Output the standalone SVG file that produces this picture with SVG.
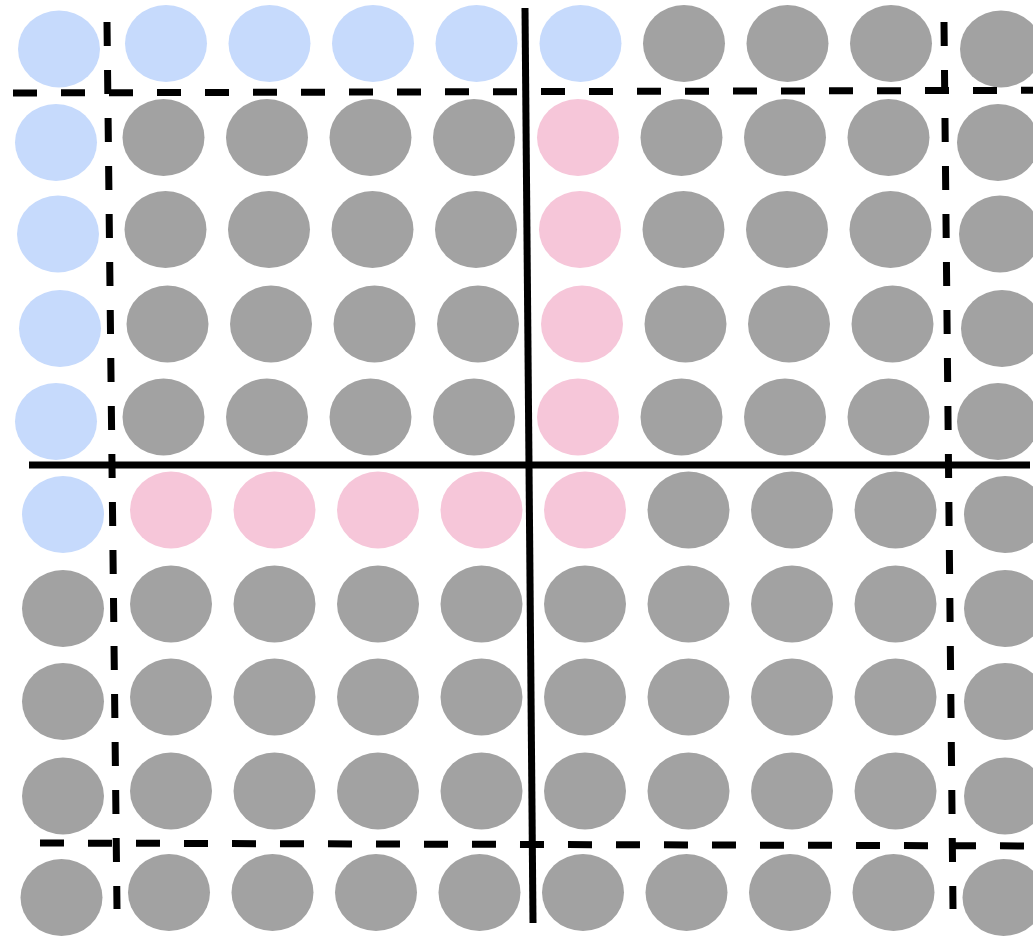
<svg xmlns="http://www.w3.org/2000/svg" width="1033" height="936" viewBox="0 0 1033 936">
<style>
.b{fill:#c6dafc}.p{fill:#f6c6d9}.g{fill:#a2a2a2}
ellipse{stroke:none}
.dash{stroke:#000;stroke-width:7;stroke-dasharray:24 24;fill:none}
.solid{stroke:#000;stroke-width:7;fill:none}
</style>
<rect width="1033" height="936" fill="#fff"/>
<g id="nodes">
<g id="r0c0"><ellipse class="b" cx="59" cy="49" rx="41" ry="38.5"/></g>
<g id="r0c1"><ellipse class="b" cx="166" cy="43.5" rx="41" ry="38.5"/></g>
<g id="r0c2"><ellipse class="b" cx="269.5" cy="43.5" rx="41" ry="38.5"/></g>
<g id="r0c3"><ellipse class="b" cx="373" cy="43.5" rx="41" ry="38.5"/></g>
<g id="r0c4"><ellipse class="b" cx="476.5" cy="43.5" rx="41" ry="38.5"/></g>
<g id="r0c5"><ellipse class="b" cx="580.5" cy="43.5" rx="41" ry="38.5"/></g>
<g id="r0c6"><ellipse class="g" cx="684" cy="43.5" rx="41" ry="38.5"/></g>
<g id="r0c7"><ellipse class="g" cx="787.5" cy="43.5" rx="41" ry="38.5"/></g>
<g id="r0c8"><ellipse class="g" cx="891" cy="43.5" rx="41" ry="38.5"/></g>
<g id="r0c9"><ellipse class="g" cx="1001" cy="49" rx="41" ry="38.5"/></g>

<g id="r1c0"><ellipse class="b" cx="56" cy="142.5" rx="41" ry="38.5"/></g>
<g id="r1c1"><ellipse class="g" cx="163.5" cy="137.5" rx="41" ry="38.5"/></g>
<g id="r1c2"><ellipse class="g" cx="267" cy="137.5" rx="41" ry="38.5"/></g>
<g id="r1c3"><ellipse class="g" cx="370.5" cy="137.5" rx="41" ry="38.5"/></g>
<g id="r1c4"><ellipse class="g" cx="474" cy="137.5" rx="41" ry="38.5"/></g>
<g id="r1c5"><ellipse class="p" cx="578" cy="137.5" rx="41" ry="38.5"/></g>
<g id="r1c6"><ellipse class="g" cx="681.5" cy="137.5" rx="41" ry="38.5"/></g>
<g id="r1c7"><ellipse class="g" cx="785" cy="137.5" rx="41" ry="38.5"/></g>
<g id="r1c8"><ellipse class="g" cx="888.5" cy="137.5" rx="41" ry="38.5"/></g>
<g id="r1c9"><ellipse class="g" cx="998" cy="142.5" rx="41" ry="38.5"/></g>

<g id="r2c0"><ellipse class="b" cx="58" cy="234" rx="41" ry="38.5"/></g>
<g id="r2c1"><ellipse class="g" cx="165.5" cy="229.5" rx="41" ry="38.5"/></g>
<g id="r2c2"><ellipse class="g" cx="269" cy="229.5" rx="41" ry="38.5"/></g>
<g id="r2c3"><ellipse class="g" cx="372.5" cy="229.5" rx="41" ry="38.5"/></g>
<g id="r2c4"><ellipse class="g" cx="476" cy="229.5" rx="41" ry="38.5"/></g>
<g id="r2c5"><ellipse class="p" cx="580" cy="229.5" rx="41" ry="38.5"/></g>
<g id="r2c6"><ellipse class="g" cx="683.5" cy="229.5" rx="41" ry="38.5"/></g>
<g id="r2c7"><ellipse class="g" cx="787" cy="229.5" rx="41" ry="38.5"/></g>
<g id="r2c8"><ellipse class="g" cx="890.5" cy="229.5" rx="41" ry="38.5"/></g>
<g id="r2c9"><ellipse class="g" cx="1000" cy="234" rx="41" ry="38.5"/></g>

<g id="r3c0"><ellipse class="b" cx="60" cy="328.5" rx="41" ry="38.5"/></g>
<g id="r3c1"><ellipse class="g" cx="167.5" cy="324" rx="41" ry="38.5"/></g>
<g id="r3c2"><ellipse class="g" cx="271" cy="324" rx="41" ry="38.5"/></g>
<g id="r3c3"><ellipse class="g" cx="374.5" cy="324" rx="41" ry="38.5"/></g>
<g id="r3c4"><ellipse class="g" cx="478" cy="324" rx="41" ry="38.5"/></g>
<g id="r3c5"><ellipse class="p" cx="582" cy="324" rx="41" ry="38.5"/></g>
<g id="r3c6"><ellipse class="g" cx="685.5" cy="324" rx="41" ry="38.5"/></g>
<g id="r3c7"><ellipse class="g" cx="789" cy="324" rx="41" ry="38.5"/></g>
<g id="r3c8"><ellipse class="g" cx="892.5" cy="324" rx="41" ry="38.5"/></g>
<g id="r3c9"><ellipse class="g" cx="1002" cy="328.5" rx="41" ry="38.5"/></g>

<g id="r4c0"><ellipse class="b" cx="56" cy="421.5" rx="41" ry="38.5"/></g>
<g id="r4c1"><ellipse class="g" cx="163.5" cy="417" rx="41" ry="38.5"/></g>
<g id="r4c2"><ellipse class="g" cx="267" cy="417" rx="41" ry="38.5"/></g>
<g id="r4c3"><ellipse class="g" cx="370.5" cy="417" rx="41" ry="38.5"/></g>
<g id="r4c4"><ellipse class="g" cx="474" cy="417" rx="41" ry="38.5"/></g>
<g id="r4c5"><ellipse class="p" cx="578" cy="417" rx="41" ry="38.5"/></g>
<g id="r4c6"><ellipse class="g" cx="681.5" cy="417" rx="41" ry="38.5"/></g>
<g id="r4c7"><ellipse class="g" cx="785" cy="417" rx="41" ry="38.5"/></g>
<g id="r4c8"><ellipse class="g" cx="888.5" cy="417" rx="41" ry="38.5"/></g>
<g id="r4c9"><ellipse class="g" cx="998" cy="421.5" rx="41" ry="38.5"/></g>

<g id="r5c0"><ellipse class="b" cx="63" cy="514.5" rx="41" ry="38.5"/></g>
<g id="r5c1"><ellipse class="p" cx="171" cy="510" rx="41" ry="38.5"/></g>
<g id="r5c2"><ellipse class="p" cx="274.5" cy="510" rx="41" ry="38.5"/></g>
<g id="r5c3"><ellipse class="p" cx="378" cy="510" rx="41" ry="38.5"/></g>
<g id="r5c4"><ellipse class="p" cx="481.5" cy="510" rx="41" ry="38.5"/></g>
<g id="r5c5"><ellipse class="p" cx="585" cy="510" rx="41" ry="38.5"/></g>
<g id="r5c6"><ellipse class="g" cx="688.5" cy="510" rx="41" ry="38.5"/></g>
<g id="r5c7"><ellipse class="g" cx="792" cy="510" rx="41" ry="38.5"/></g>
<g id="r5c8"><ellipse class="g" cx="895.5" cy="510" rx="41" ry="38.5"/></g>
<g id="r5c9"><ellipse class="g" cx="1005" cy="514.5" rx="41" ry="38.5"/></g>

<g id="r6c0"><ellipse class="g" cx="63" cy="608.5" rx="41" ry="38.5"/></g>
<g id="r6c1"><ellipse class="g" cx="171" cy="604" rx="41" ry="38.5"/></g>
<g id="r6c2"><ellipse class="g" cx="274.5" cy="604" rx="41" ry="38.5"/></g>
<g id="r6c3"><ellipse class="g" cx="378" cy="604" rx="41" ry="38.5"/></g>
<g id="r6c4"><ellipse class="g" cx="481.5" cy="604" rx="41" ry="38.5"/></g>
<g id="r6c5"><ellipse class="g" cx="585" cy="604" rx="41" ry="38.5"/></g>
<g id="r6c6"><ellipse class="g" cx="688.5" cy="604" rx="41" ry="38.5"/></g>
<g id="r6c7"><ellipse class="g" cx="792" cy="604" rx="41" ry="38.5"/></g>
<g id="r6c8"><ellipse class="g" cx="895.5" cy="604" rx="41" ry="38.5"/></g>
<g id="r6c9"><ellipse class="g" cx="1005" cy="608.5" rx="41" ry="38.5"/></g>

<g id="r7c0"><ellipse class="g" cx="63" cy="701.5" rx="41" ry="38.5"/></g>
<g id="r7c1"><ellipse class="g" cx="171" cy="697" rx="41" ry="38.5"/></g>
<g id="r7c2"><ellipse class="g" cx="274.5" cy="697" rx="41" ry="38.5"/></g>
<g id="r7c3"><ellipse class="g" cx="378" cy="697" rx="41" ry="38.5"/></g>
<g id="r7c4"><ellipse class="g" cx="481.5" cy="697" rx="41" ry="38.5"/></g>
<g id="r7c5"><ellipse class="g" cx="585" cy="697" rx="41" ry="38.5"/></g>
<g id="r7c6"><ellipse class="g" cx="688.5" cy="697" rx="41" ry="38.5"/></g>
<g id="r7c7"><ellipse class="g" cx="792" cy="697" rx="41" ry="38.5"/></g>
<g id="r7c8"><ellipse class="g" cx="895.5" cy="697" rx="41" ry="38.5"/></g>
<g id="r7c9"><ellipse class="g" cx="1005" cy="701.5" rx="41" ry="38.5"/></g>

<g id="r8c0"><ellipse class="g" cx="63" cy="796" rx="41" ry="38.5"/></g>
<g id="r8c1"><ellipse class="g" cx="171" cy="791" rx="41" ry="38.5"/></g>
<g id="r8c2"><ellipse class="g" cx="274.5" cy="791" rx="41" ry="38.5"/></g>
<g id="r8c3"><ellipse class="g" cx="378" cy="791" rx="41" ry="38.5"/></g>
<g id="r8c4"><ellipse class="g" cx="481.5" cy="791" rx="41" ry="38.5"/></g>
<g id="r8c5"><ellipse class="g" cx="585" cy="791" rx="41" ry="38.5"/></g>
<g id="r8c6"><ellipse class="g" cx="688.5" cy="791" rx="41" ry="38.5"/></g>
<g id="r8c7"><ellipse class="g" cx="792" cy="791" rx="41" ry="38.5"/></g>
<g id="r8c8"><ellipse class="g" cx="895.5" cy="791" rx="41" ry="38.5"/></g>
<g id="r8c9"><ellipse class="g" cx="1005" cy="796" rx="41" ry="38.5"/></g>

<g id="r9c0"><ellipse class="g" cx="61.5" cy="897.5" rx="41" ry="38.5"/></g>
<g id="r9c1"><ellipse class="g" cx="169" cy="892.5" rx="41" ry="38.5"/></g>
<g id="r9c2"><ellipse class="g" cx="272.5" cy="892.5" rx="41" ry="38.5"/></g>
<g id="r9c3"><ellipse class="g" cx="376" cy="892.5" rx="41" ry="38.5"/></g>
<g id="r9c4"><ellipse class="g" cx="479.5" cy="892.5" rx="41" ry="38.5"/></g>
<g id="r9c5"><ellipse class="g" cx="583" cy="892.5" rx="41" ry="38.5"/></g>
<g id="r9c6"><ellipse class="g" cx="686.5" cy="892.5" rx="41" ry="38.5"/></g>
<g id="r9c7"><ellipse class="g" cx="790" cy="892.5" rx="41" ry="38.5"/></g>
<g id="r9c8"><ellipse class="g" cx="893.5" cy="892.5" rx="41" ry="38.5"/></g>
<g id="r9c9"><ellipse class="g" cx="1003.5" cy="897.5" rx="41" ry="38.5"/></g>
</g>
<g id="lines">
<line class="dash" x1="13" y1="93" x2="1045" y2="90.3"/>
<line class="dash" x1="40" y1="843" x2="1045" y2="846"/>
<line class="dash" x1="107" y1="22" x2="117" y2="909"/>
<line class="dash" x1="944" y1="22" x2="953" y2="909"/>
<line class="solid" x1="525" y1="8" x2="533" y2="923"/>
<line class="solid" x1="29" y1="465" x2="1030" y2="465"/>
</g>
</svg>
